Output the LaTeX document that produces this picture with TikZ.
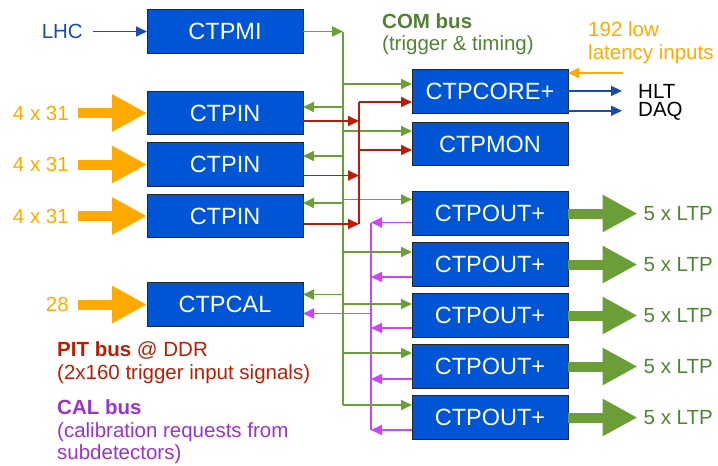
\documentclass[tikz,border=0pt]{standalone}
\usepackage{fontspec}
\setmainfont{Liberation Sans}
\usetikzlibrary{arrows.meta,positioning,calc}
\definecolor{boardblue}{RGB}{0,85,212}
\definecolor{comgreen}{RGB}{107,158,55}
\definecolor{comtext}{RGB}{84,130,53}
\definecolor{pitred}{RGB}{185,30,5}
\definecolor{calviolet}{RGB}{204,68,255}
\definecolor{caltext}{RGB}{153,51,204}
\definecolor{inorange}{RGB}{255,170,0}
\definecolor{lhcblue}{RGB}{25,75,170}
\tikzset{
    board/.style={rectangle,draw=black!85,line width=1pt,fill=boardblue,text=white,minimum width=156pt,minimum height=43.5pt,outer sep=0pt,font=\fontsize{23.5}{25}\selectfont},
    note/.style={inner sep=3pt,font=\fontsize{20.5}{22.5}\selectfont},
    com/.style={draw=comgreen,line width=1.8pt},
    pit/.style={draw=pitred,line width=1.8pt},
    calreq/.style={draw=calviolet,line width=1.8pt},
    bus/.style={line width=2.6pt},
    sig/.style={-{Triangle[length=11pt 0 0,width=10pt 0 0]}},
    fat/.style={line width=10pt,-{Triangle[length=35pt 0 0,width=35pt 0 0]}}
}

\begin{document}
\begin{tikzpicture}[x=1pt,y=-1pt]
\useasboundingbox (0,0) rectangle (718,466);

% boards
\node[board] (mi) at (225,31.5) {CTPMI};
\node[board] (in1) [below=38pt of mi] {CTPIN};
\node[board] (in2) [below=8pt of in1] {CTPIN};
\node[board] (in3) [below=8pt of in2] {CTPIN};
\node[board] (cal) [below=45pt of in3] {CTPCAL};
\node[board] (core) at (490,91.5) {CTPCORE+};
\node[board] (mon) [below=9pt of core] {CTPMON};
\node[board] (out1) [below=26pt of mon] {CTPOUT+};
\foreach \i [count=\j from 2] in {1,...,4}
    \node[board] (out\j) [below=7.5pt of out\i] {CTPOUT+};

% bus lines
\coordinate (gbus) at (343,0);
\coordinate (rbus) at (359,0);
\coordinate (cbus) at (371,0);

% COM bus
\draw[com,bus] (gbus |- mi.east) -- ($(gbus |- out5.west)+(0,-12.5)$);
\draw[com,sig] (mi) -- (gbus |- mi.east);
\draw[com,sig] ($(gbus |- core.west)+(0,-7.5)$) -- ($(core.west)+(0,-7.5)$);
\draw[com,sig] ($(gbus |- mon.west)+(0,-13)$) -- ($(mon.west)+(0,-13)$);
\foreach \i/\g in {1/-6,2/-8.5,3/-13}
    \draw[com,sig] ($(gbus |- in\i.east)+(0,\g)$) -- ($(in\i.east)+(0,\g)$);
\draw[com,sig] ($(gbus |- cal.east)+(0,-10)$) -- ($(cal.east)+(0,-10)$);

% CAL bus
\draw[calreq,sig] ($(cbus |- cal.east)+(0,9)$) -- ($(cal.east)+(0,9)$);
\draw[calreq,bus] ($(cbus |- out1.west)+(0,9)$) -- ($(cbus |- out5.west)+(0,12.5)$);
\foreach \i/\g/\c in {1/-14/9,2/-12.5/12.5,3/-11.5/12.5,4/-13.5/12.5,5/-12.5/12.5}{
    \draw[com,sig] ($(gbus |- out\i.west)+(0,\g)$) -- ($(out\i.west)+(0,\g)$);
    \draw[calreq,sig] ($(out\i.west)+(0,\c)$) -- ($(cbus |- out\i.west)+(0,\c)$);
}

% PIT bus
\foreach \i/\r in {1/8,2/11,3/8}
    \draw[pit,sig] ($(in\i.east)+(0,\r)$) -- ($(rbus |- in\i.east)+(0,\r)$);
\draw[pit,bus] ($(rbus |- in3.east)+(0,8)$) -- ($(rbus |- core.west)+(0,10.5)$);
\draw[pit,sig] ($(rbus |- core.west)+(0,10.5)$) -- ($(core.west)+(0,10.5)$);
\draw[pit,sig] ($(rbus |- mon.west)+(0,6)$) -- ($(mon.west)+(0,6)$);

% inputs
\node[note,text=lhcblue] (lhc) [left=61pt of mi] {LHC};
\draw[lhcblue,line width=1.5pt,sig,shorten <=7pt] (lhc) -- (mi);
\foreach \i in {1,2,3}{
    \node[note,text=inorange] (n\i) [left=75pt of in\i] {4 x 31};
    \draw[fat,inorange,shorten <=6pt] (n\i) -- (in\i);
}
\node[note,text=inorange] (n4) [left=75pt of cal] {28};
\draw[fat,inorange,shorten <=6pt] (n4) -- (cal);

\node[note,text=inorange,align=left,anchor=north west] (low) at (585,18.5) {192 low\\latency inputs};
\coordinate (lowin) at (623,73);
\draw[inorange,line width=1.8pt,sig] (lowin) -- (core.east |- lowin);

% outputs
\node[note,anchor=base west] (hlt) at (635,98) {HLT};
\node[note,anchor=base west] (daq) at (635,116) {DAQ};
\draw[lhcblue,line width=1.5pt,sig,shorten >=13pt] (core.east |- hlt.west) -- (hlt.west);
\draw[lhcblue,line width=1.5pt,sig,shorten >=13pt] (core.east |- daq.west) -- (daq.west);
\foreach \i in {1,...,5}{
    \node[note,text=comtext] (ltp\i) [right=72.5pt of out\i] {5 x LTP};
    \draw[fat,comgreen,shorten >=3pt] (out\i) -- (ltp\i);
}

% legend
\node[note,text=comtext,align=left,anchor=north west] (comlbl) at (379,10) {\textbf{COM bus}\\(trigger \& timing)};
\node[note,text=pitred,align=left,anchor=north west] (pitlbl) at (54,338.5) {\textbf{PIT bus} @ DDR\\(2x160 trigger input signals)};
\node[note,text=caltext,align=left,anchor=north west] (callbl) at (54,396.5) {\textbf{CAL bus}\\(calibration requests from\\subdetectors)};

\end{tikzpicture}
\end{document}
